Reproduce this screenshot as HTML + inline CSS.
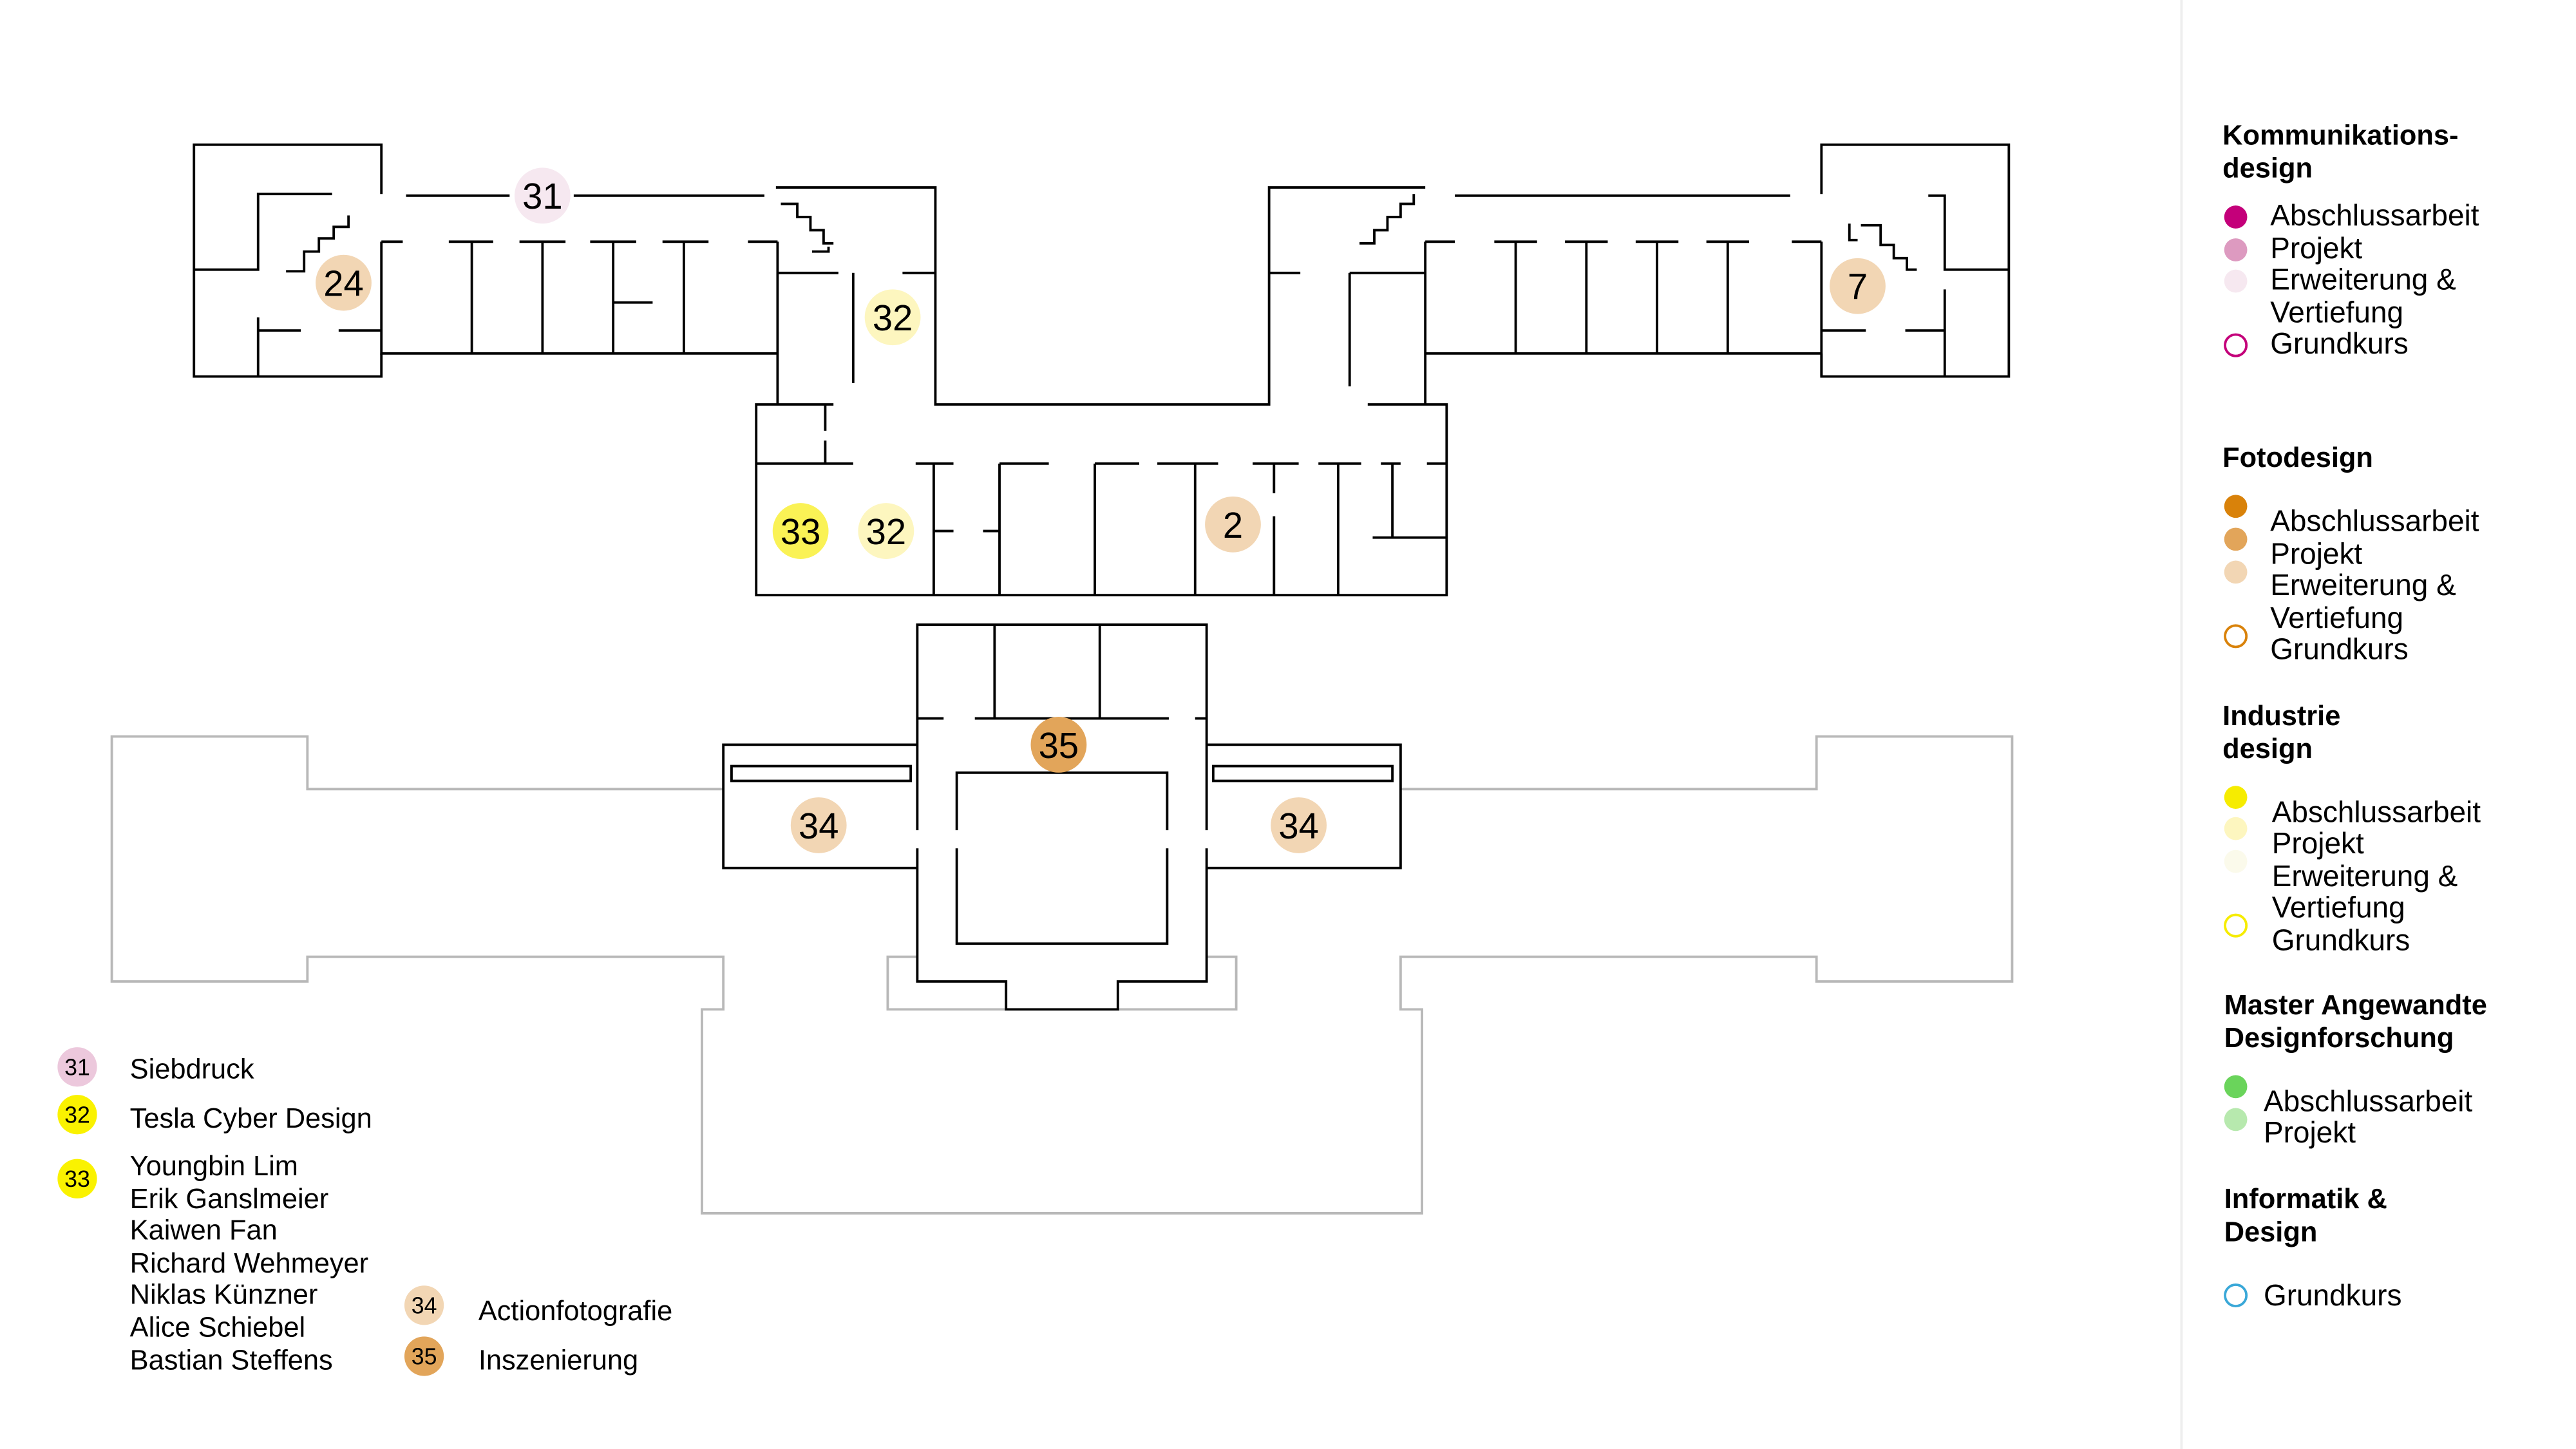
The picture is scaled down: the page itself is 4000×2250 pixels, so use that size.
<!DOCTYPE html>
<html><head><meta charset="utf-8"><style>
html,body{margin:0;padding:0;background:#fff;}
svg{display:block;}
text{font-family:"Liberation Sans",sans-serif;}
</style></head><body>
<svg width="4000" height="2250" viewBox="0 0 1567 881.4" xmlns="http://www.w3.org/2000/svg">
<rect width="1567" height="881.4" fill="#fff"/>
<g fill="none" stroke="#b8b8b8" stroke-width="1.5">
<path d="M440,480 H187 V448 H68 V597 H187 V582 H440 V614 H427 V738 H865 V614 H852 V582 H1105 V597 H1224 V448 H1105 V480 H852"/>
<path d="M558,582 H540 V614 H612"/>
<path d="M734,582 H752 V614 H680"/>
</g>
<g fill="none" stroke="#000" stroke-width="1.5">
<path d="M232,118 V88 H118 V229 H232 V215"/>
<path d="M118,164 H157 V118 H202"/>
<path d="M247,119 H310 M349,119 H465"/>
<path d="M232,147 H245 M273,147 H300 M316,147 H344 M359,147 H387 M403,147 H431 M455,147 H473"/>
<path d="M232,147 V215 H473"/>
<path d="M287,147 V215 M330,147 V215 M373,147 V215 M416,147 V215 M373,184 H397"/>
<path d="M157,193 V229 M157,201 H183 M206,201 H232"/>
<path d="M174,165 H185 V153 H194 V145 H203 V138 H212 V131"/>
<path d="M472,114 H569 V246 H772 V114 H867"/>
<path d="M473,147 V246 M473,166 H510 M549,166 H569 M519,166 V233"/>
<path d="M475,124 H485 V132 H493 V140 H501 V148 H507 M494,153 H504 V150"/>
<path d="M772,166 H791 M821,166 H867 M821,166 V235 M867,147 V246"/>
<path d="M827,148 H836 V140 H844 V132 H852 V124 H860 V118"/>
<path d="M507,246 H460 V362 H880 V246 H832"/>
<path d="M502,246 V262 M502,268 V282"/>
<path d="M460,282 H519 M557,282 H580 M608,282 H638 M666,282 H693 M704,282 H741 M762,282 H790 M802,282 H828 M840,282 H852 M868,282 H880"/>
<path d="M568,282 V362 M608,282 V362 M666,282 V362 M727,282 V362 M775,282 V300 M775,314 V362 M814,282 V362 M847,282 V327 M835,327 H880"/>
<path d="M568,323 H580 M598,323 H608"/>
<path d="M885,119 H1089"/>
<path d="M1108,118 V88 H1222 V229 H1108 V215"/>
<path d="M867,147 H885 M909,147 H935 M952,147 H978 M995,147 H1021 M1038,147 H1064 M1090,147 H1108"/>
<path d="M867,215 H1108 M1108,147 V229"/>
<path d="M922,147 V215 M965,147 V215 M1008,147 V215 M1051,147 V215"/>
<path d="M1173,119 H1183 V164 H1222 M1183,176 V229 M1108,201 H1135 M1159,201 H1183"/>
<path d="M1125,136 V146 H1130 M1132,137 H1144 V149 H1152 V157 H1160 V164 H1166"/>
<path d="M558,505 V380 H734 V505 M734,516 V597 H680 V614 H612 V597 H558 V516"/>
<path d="M605,380 V437 M669,380 V437"/>
<path d="M558,437 H574 M593,437 H711 M727,437 H734"/>
<path d="M582,516 V574 H710 V516 M582,505 V470 H710 V505"/>
<path d="M558,453 H440 V528 H558 M734,453 H852 V528 H734"/>
<rect x="445" y="466" width="109" height="9"/>
<rect x="738" y="466" width="109" height="9"/>
</g>
<g font-size="22" text-anchor="middle" fill="#000">
<circle cx="330" cy="119" r="17" fill="#f6e8f0"/><text x="330" y="127">31</text>
<circle cx="209" cy="172" r="17" fill="#f2d6b4"/><text x="209" y="180">24</text>
<circle cx="543" cy="193" r="17" fill="#fdf6bf"/><text x="543" y="201">32</text>
<circle cx="487" cy="323" r="17" fill="#faf255"/><text x="487" y="331">33</text>
<circle cx="539" cy="323" r="17" fill="#fdf6bf"/><text x="539" y="331">32</text>
<circle cx="750" cy="319" r="17" fill="#f2d6b4"/><text x="750" y="327">2</text>
<circle cx="1130" cy="174" r="17" fill="#f2d6b4"/><text x="1130" y="182">7</text>
<circle cx="644" cy="453" r="17" fill="#e2a55a"/><text x="644" y="461">35</text>
<circle cx="498" cy="502" r="17" fill="#f2d6b4"/><text x="498" y="510">34</text>
<circle cx="790" cy="502" r="17" fill="#f2d6b4"/><text x="790" y="510">34</text>
</g>
<g font-size="14" text-anchor="middle">
<circle cx="47" cy="649" r="12" fill="#ecc8dc"/><text x="47" y="654">31</text>
<circle cx="47" cy="678" r="12" fill="#faf200"/><text x="47" y="683">32</text>
<circle cx="47" cy="717" r="12" fill="#faf200"/><text x="47" y="722">33</text>
<circle cx="258" cy="794" r="12" fill="#f2d6b4"/><text x="258" y="799">34</text>
<circle cx="258" cy="825" r="12" fill="#e2a55a"/><text x="258" y="830">35</text>
</g>
<g font-size="17">
<text x="79" y="656">Siebdruck</text>
<text x="79" y="686">Tesla Cyber Design</text>
<text x="79" y="715">Youngbin Lim</text>
<text x="79" y="735">Erik Ganslmeier</text>
<text x="79" y="754">Kaiwen Fan</text>
<text x="79" y="774">Richard Wehmeyer</text>
<text x="79" y="793">Niklas Künzner</text>
<text x="79" y="813">Alice Schiebel</text>
<text x="79" y="833">Bastian Steffens</text>
<text x="291" y="803">Actionfotografie</text>
<text x="291" y="833">Inszenierung</text>
</g>
<line x1="1327" y1="0" x2="1327" y2="881.4" stroke="#eeeeee" stroke-width="1.5"/>
<g font-size="17" font-weight="bold">
<text x="1352" y="88">Kommunikations-</text>
<text x="1352" y="108">design</text>
<text x="1352" y="284">Fotodesign</text>
<text x="1352" y="441">Industrie</text>
<text x="1352" y="461">design</text>
<text x="1353" y="617">Master Angewandte</text>
<text x="1353" y="637">Designforschung</text>
<text x="1353" y="735">Informatik &amp;</text>
<text x="1353" y="755">Design</text>
</g>
<g font-size="18">
<text x="1381" y="137">Abschlussarbeit</text>
<text x="1381" y="157">Projekt</text>
<text x="1381" y="176">Erweiterung &amp;</text>
<text x="1381" y="196">Vertiefung</text>
<text x="1381" y="215">Grundkurs</text>
<text x="1381" y="323">Abschlussarbeit</text>
<text x="1381" y="343">Projekt</text>
<text x="1381" y="362">Erweiterung &amp;</text>
<text x="1381" y="382">Vertiefung</text>
<text x="1381" y="401">Grundkurs</text>
<text x="1382" y="500">Abschlussarbeit</text>
<text x="1382" y="519">Projekt</text>
<text x="1382" y="539">Erweiterung &amp;</text>
<text x="1382" y="558">Vertiefung</text>
<text x="1382" y="578">Grundkurs</text>
<text x="1377" y="676">Abschlussarbeit</text>
<text x="1377" y="695">Projekt</text>
<text x="1377" y="794">Grundkurs</text>
</g>
<g>
<circle cx="1360" cy="132" r="7" fill="#c4007a"/>
<circle cx="1360" cy="152" r="7" fill="#dd9ac0"/>
<circle cx="1360" cy="171" r="7" fill="#f6e8f0"/>
<circle cx="1360" cy="210" r="6.5" fill="none" stroke="#c4007a" stroke-width="1.5"/>
<circle cx="1360" cy="308" r="7" fill="#d9820a"/>
<circle cx="1360" cy="328" r="7" fill="#e2a55a"/>
<circle cx="1360" cy="348" r="7" fill="#f2d6b4"/>
<circle cx="1360" cy="387" r="6.5" fill="none" stroke="#d9820a" stroke-width="1.5"/>
<circle cx="1360" cy="485" r="7" fill="#f6ec00"/>
<circle cx="1360" cy="504" r="7" fill="#fdf6bf"/>
<circle cx="1360" cy="524" r="7" fill="#fbfaeb"/>
<circle cx="1360" cy="563" r="6.5" fill="none" stroke="#f6ec00" stroke-width="1.5"/>
<circle cx="1360" cy="661" r="7" fill="#6ad45b"/>
<circle cx="1360" cy="681" r="7" fill="#b7e9ae"/>
<circle cx="1360" cy="788" r="6.5" fill="none" stroke="#3aa8d8" stroke-width="1.5"/>
</g>
</svg>
</body></html>
